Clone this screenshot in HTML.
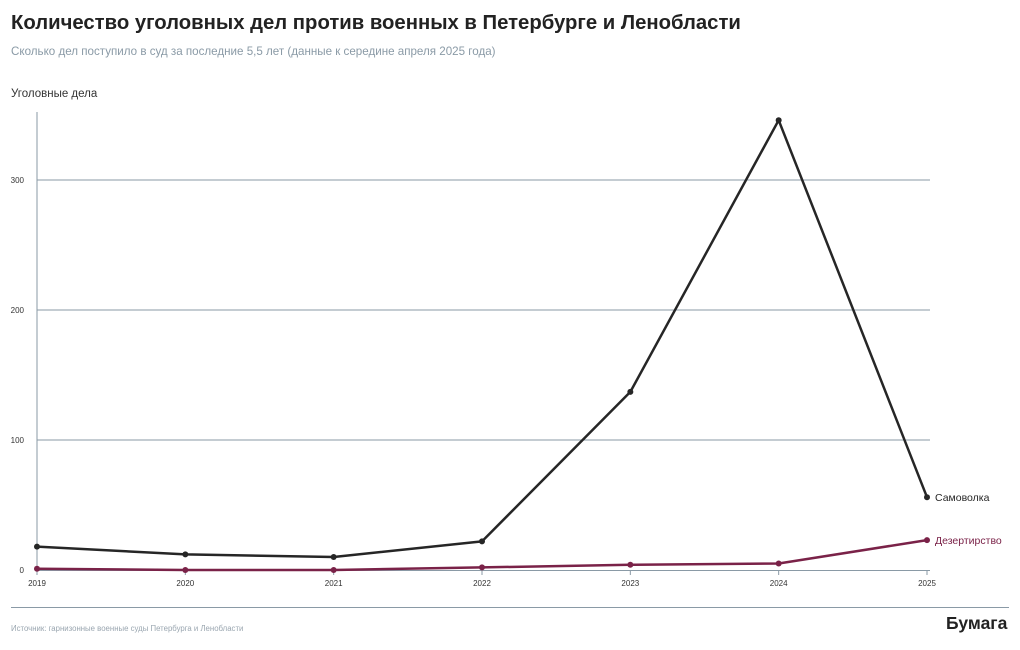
<!DOCTYPE html>
<html><head><meta charset="utf-8"><style>
body{margin:0;width:1020px;height:650px;background:#fff;font-family:"Liberation Sans",sans-serif;overflow:hidden;position:relative}
.t{position:absolute;white-space:nowrap}
</style></head><body>
<div class="t" style="left:11px;top:12px;font-size:20.3px;font-weight:bold;color:#222">Количество уголовных дел против военных в Петербурге и Ленобласти</div>
<div class="t" style="left:11px;top:45px;font-size:11.6px;color:#8a9aa6">Сколько дел поступило в суд за последние 5,5 лет (данные к середине апреля 2025 года)</div>
<div class="t" style="left:11px;top:88px;font-size:11.5px;color:#333">Уголовные дела</div>
<svg id="c" width="1020" height="650" style="position:absolute;left:0;top:0"></svg>
<div style="position:absolute;left:11px;top:607px;width:998px;height:1px;background:#8a9aa6"></div>
<div class="t" style="left:11px;top:624px;font-size:7.8px;color:#9aa6b0">Источник: гарнизонные военные суды Петербурга и Ленобласти</div>
<div class="t" style="left:946px;top:613px;font-size:17.5px;font-weight:bold;color:#222">Бумага</div>
<script>
const years=["2019","2020","2021","2022","2023","2024","2025"];
const samovolka=[18,12,10,22,137,346,56];
const dezert=[1,0,0,2,4,5,23];
const yTicks=[0,100,200,300];
const NS="http://www.w3.org/2000/svg";
const svg=document.getElementById('c');
const x=i=>37+i*(927-37)/(years.length-1);
const y=v=>570-v*1.3;
function mk(t,a){const e=document.createElementNS(NS,t);for(const k in a)e.setAttribute(k,a[k]);svg.appendChild(e);return e;}
yTicks.forEach(v=>{
 if(v>0){const l=mk('line',{x1:37,x2:930,y1:y(v),y2:y(v),stroke:'#8a9aa6','stroke-width':1});
 
 }
 const t=mk('text',{x:24,y:y(v)+3,'font-size':8,'text-anchor':'end',fill:'#333','font-family':'Liberation Sans'});t.textContent=v;
 
 
});
const ax=mk('line',{x1:37,x2:37,y1:112,y2:570,stroke:'#8a9aa6'});


const bx=mk('line',{x1:37,x2:930,y1:570.5,y2:570.5,stroke:'#8a9aa6'});


years.forEach((yr,i)=>{
 mk('line',{x1:x(i),x2:x(i),y1:570,y2:575,stroke:'#8a9aa6'});
 const t=mk('text',{x:x(i),y:586,'font-size':8,'text-anchor':'middle',fill:'#333','font-family':'Liberation Sans'});t.textContent=yr;
 
 
});
function series(vals,col,name,label){
 const p=mk('polyline',{points:vals.map((v,i)=>x(i)+','+y(v)).join(' '),fill:'none',stroke:col,'stroke-width':2.5,'stroke-linejoin':'round'});
 
 
 vals.forEach((v,i)=>{const c=mk('circle',{cx:x(i),cy:y(v),r:3,fill:col});
 
 });
 const t=mk('text',{x:x(vals.length-1)+8,y:y(vals[vals.length-1])+4,'font-size':10.5,fill:col,'font-family':'Liberation Sans'});t.textContent=label;
 
 
}
series(samovolka,'#262626','samovolka','Самоволка');
series(dezert,'#7a2248','dezertirstvo','Дезертирство');
</script>
</body></html>
